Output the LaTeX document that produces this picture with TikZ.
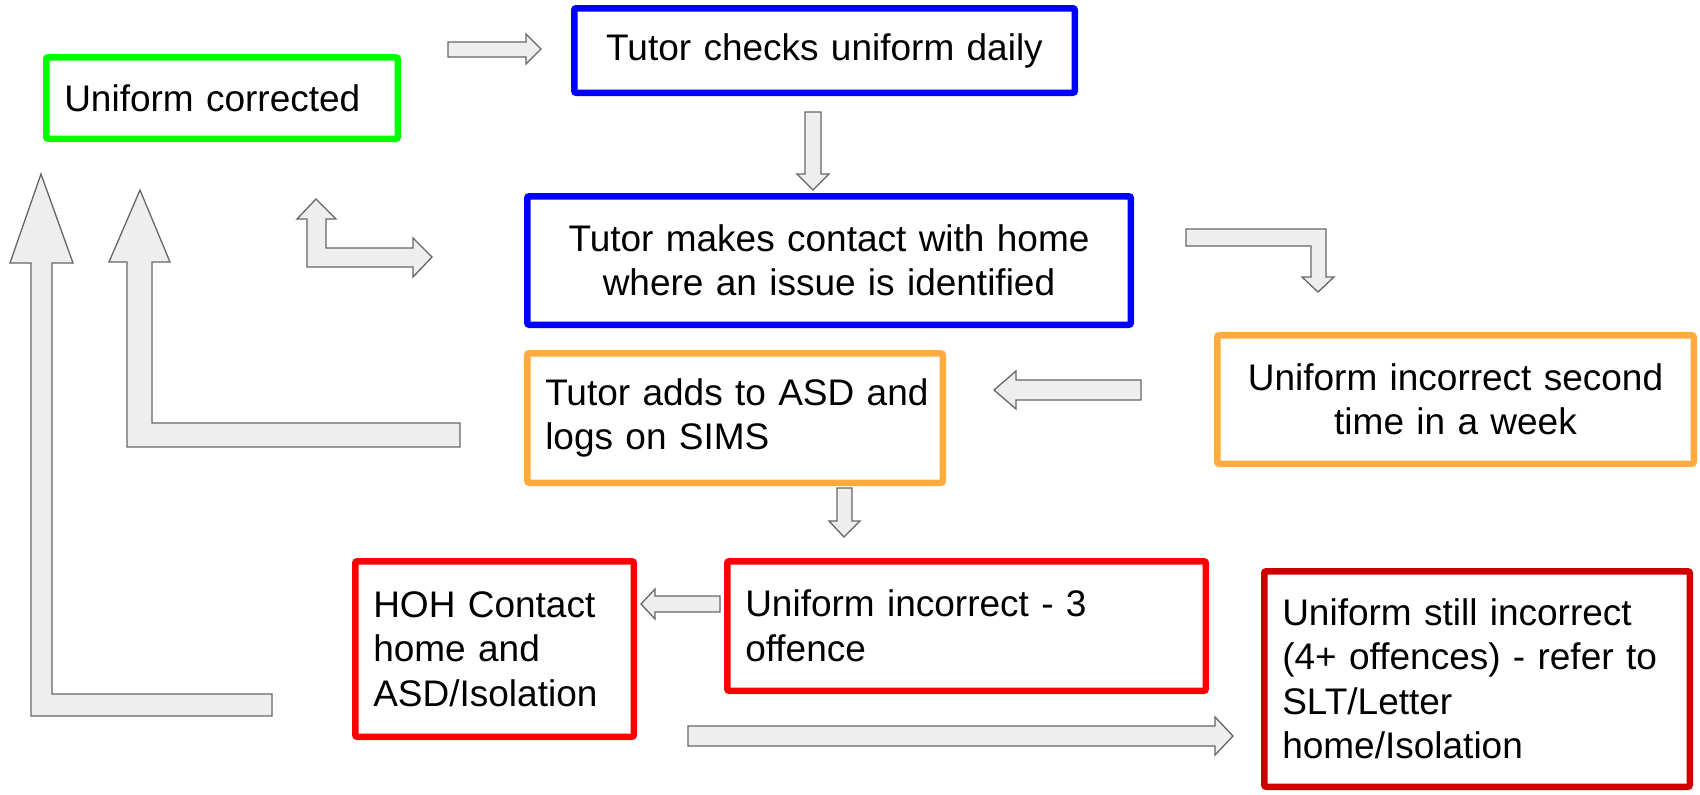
\documentclass[tikz,border=0pt]{standalone}
\usepackage{fontspec}
\setmainfont{Liberation Sans}
\definecolor{cgreen}{HTML}{00FF00}
\definecolor{cblue}{HTML}{0000FF}
\definecolor{corange}{HTML}{FFAB40}
\definecolor{cred}{HTML}{FF0000}
\definecolor{cdred}{HTML}{CC0000}
\definecolor{afill}{HTML}{EEEEEE}
\definecolor{aline}{HTML}{666666}
\tikzset{
  box/.style={draw, line width=3.25pt, rounded corners=1pt, fill=white,
    inner xsep=9pt, inner ysep=0pt, font=\fontsize{18.5pt}{22.25pt}\selectfont},
  blockarrow/.style={fill=afill, draw=aline, line width=0.65pt, line join=miter}
}
\begin{document}
\begin{tikzpicture}[x=0.5pt,y=-0.5pt]
\useasboundingbox (0,0) rectangle (1700,794);

% boxes
\node[box, draw=cgreen, minimum width=175.75pt, minimum height=40.75pt, text width=157.75pt, align=left] (uc) at (222,98) {Uniform corrected};
\node[box, draw=cblue, minimum width=250.25pt, minimum height=42.25pt, text width=232.25pt, align=center] (tc) at (824.5,50.5) {Tutor checks uniform daily};
\node[box, draw=cblue, minimum width=301.75pt, minimum height=64.25pt, text width=283.75pt, align=center] (tm) at (829,260.5) {Tutor makes contact with home\\where an issue is identified};
\node[box, draw=corange, minimum width=207.75pt, minimum height=64.75pt, text width=189.75pt, align=left] (ta) at (735,418) {\mbox{Tutor adds to ASD and}\\logs on SIMS};
\node[box, draw=corange, minimum width=238.25pt, minimum height=64.25pt, text width=220.25pt, align=center] (ui) at (1455.5,399.5) {Uniform incorrect second\\time in a week};
\node[box, draw=cred, minimum width=139.25pt, minimum height=87.75pt, text width=121.25pt, align=left] (hoh) at (494.5,649) {\mbox{HOH Contact}\\home and\\\mbox{ASD/Isolation}};
\node[box, draw=cred, minimum width=239.25pt, minimum height=64.75pt, text width=221.25pt, align=left] (u3) at (966.5,626) {Uniform incorrect - 3\\offence};
\node[box, draw=cdred, minimum width=212.75pt, minimum height=107.75pt, text width=194.75pt, align=left] (u4) at (1477,679) {\mbox{Uniform still incorrect}\\\mbox{(4+ offences) - refer to}\\SLT/Letter\\home/Isolation};

% block arrows
\draw[blockarrow] (41,174) -- (73,263) -- (52,263) -- (52,694) -- (272,694) -- (272,716) -- (31,716) -- (31,263) -- (10,263) -- cycle;
\draw[blockarrow] (140,190) -- (170,262) -- (152,262) -- (152,423) -- (460,423) -- (460,447) -- (127,447) -- (127,262) -- (109,262) -- cycle;
\draw[blockarrow] (316,199) -- (336,219) -- (326,219) -- (326,248) -- (413,248) -- (413,238) -- (432,257) -- (413,277) -- (413,267) -- (307,267) -- (307,219) -- (297,219) -- cycle;
\draw[blockarrow] (448,42) -- (526,42) -- (526,34) -- (541,49) -- (526,64) -- (526,57) -- (448,57) -- cycle;
\draw[blockarrow] (805,112) -- (821,112) -- (821,174) -- (829,174) -- (813,190) -- (797,174) -- (805,174) -- cycle;
\draw[blockarrow] (1186,229) -- (1326,229) -- (1326,277) -- (1334,277) -- (1318,292) -- (1302,277) -- (1311,277) -- (1311,246) -- (1186,246) -- cycle;
\draw[blockarrow] (1141,380) -- (1141,400) -- (1016,400) -- (1016,409) -- (994,390) -- (1016,371) -- (1016,380) -- cycle;
\draw[blockarrow] (837,488) -- (852,488) -- (852,521) -- (860,521) -- (844,537) -- (829,521) -- (837,521) -- cycle;
\draw[blockarrow] (720,596) -- (720,612) -- (655,612) -- (655,619) -- (641,604) -- (655,589) -- (655,596) -- cycle;
\draw[blockarrow] (688,726) -- (1215,726) -- (1215,717) -- (1233,736) -- (1215,755) -- (1215,746) -- (688,746) -- cycle;
\end{tikzpicture}
\end{document}
